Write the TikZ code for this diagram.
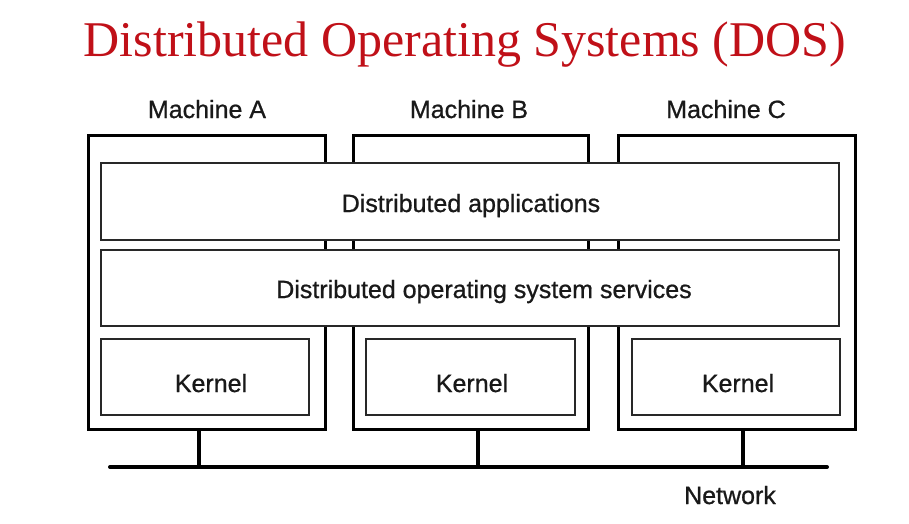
\documentclass[tikz,border=0pt]{standalone}
\usepackage{fontspec}
\setmainfont{Liberation Sans}
\newfontfamily\medfont[FakeBold=0.8]{Liberation Sans}
\newfontfamily\titlefont{Liberation Serif}
\usetikzlibrary{calc}
\definecolor{titlered}{RGB}{192,16,24}
\definecolor{boxgray}{RGB}{40,40,40}
\begin{document}
\begin{tikzpicture}[x=1pt,y=-1pt,
  machine/.style={draw=black, line width=3pt, fill=white, inner sep=0pt, outer sep=0pt},
  layer/.style={draw=boxgray, line width=2pt, fill=white, inner sep=0pt, outer sep=0pt},
  lbl/.style={font=\medfont\fontsize{25}{30}\selectfont, inner sep=0pt, anchor=base, text=black!90},
  net/.style={line width=4pt, line cap=round},
  drop/.style={line width=3.5pt}]
\useasboundingbox (0,0) rectangle (909,523);
\node[font=\titlefont\fontsize{50}{56}\selectfont, text=titlered, inner sep=0pt, anchor=base] (title) at (465,56) {Distributed Operating Systems (DOS)};
\node[lbl] (la) at (207,118) {Machine A};
\node[lbl] (lb) at (469,118) {Machine B};
\node[lbl] (lc) at (726,118) {Machine C};
\node[machine, minimum width=237pt, minimum height=294pt] (ma) at (206.5,282) {};
\node[machine, minimum width=235pt, minimum height=294pt] (mb) at (470.5,282) {};
\node[machine, minimum width=237pt, minimum height=294pt] (mc) at (736.5,282) {};
\node[layer, minimum width=738pt, minimum height=77pt] (apps) at (470,201.5) {};
\node[layer, minimum width=738pt, minimum height=76pt] (svc) at (470,288) {};
\node[layer, minimum width=208pt, minimum height=76pt] (ka) at (205,377) {};
\node[layer, minimum width=209pt, minimum height=76pt] (kb) at (470.5,377) {};
\node[layer, minimum width=208pt, minimum height=76pt] (kc) at (736,377) {};
\node[lbl] (tapps) at (471,212) {Distributed applications};
\node[lbl] (tsvc) at (484,298) {Distributed operating system services};
\node[lbl] (tka) at (211,392) {Kernel};
\node[lbl] (tkb) at (472,392) {Kernel};
\node[lbl] (tkc) at (738,392) {Kernel};
\coordinate (netL) at (110,467);
\coordinate (netR) at (827,467);
\coordinate (da) at ($(ma.south)+(-7.5,0)$);
\coordinate (db) at ($(mb.south)+(7.5,0)$);
\coordinate (dc) at ($(mc.south)+(6.5,0)$);
\draw[net] (netL) -- (netR);
\draw[drop] (da) -- (da |- netL);
\draw[drop] (db) -- (db |- netL);
\draw[drop] (dc) -- (dc |- netL);
\node[lbl] (nl) at (730,504) {Network};
\end{tikzpicture}
\end{document}
